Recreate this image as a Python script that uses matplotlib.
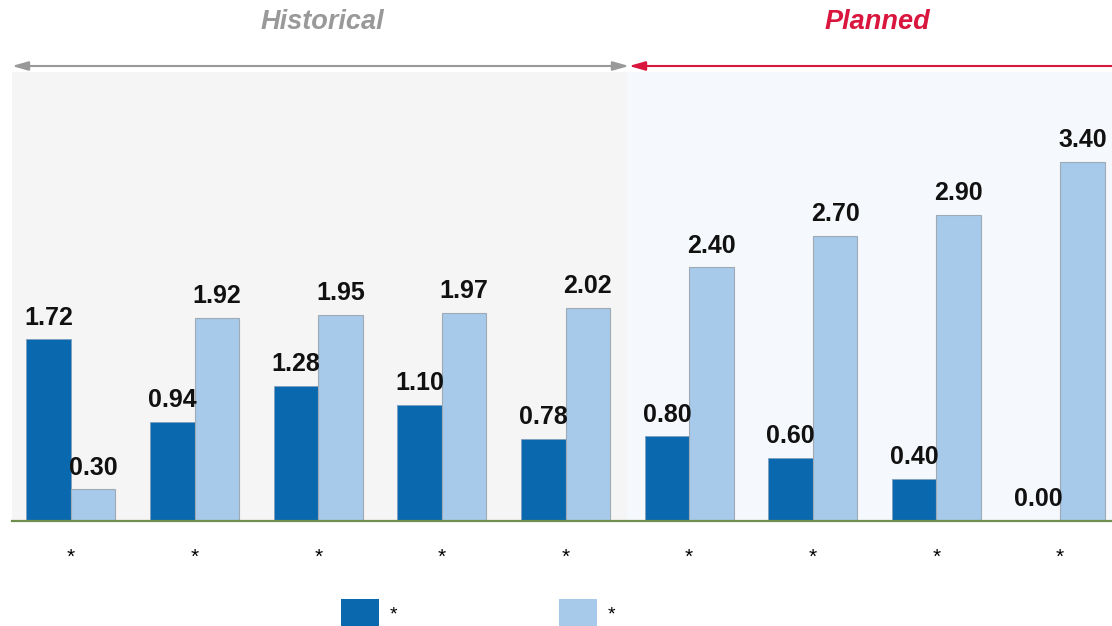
import matplotlib
matplotlib.use("Agg")
import matplotlib.pyplot as plt
import numpy as np

plt.rcParams['font.family'] = ['Liberation Sans', 'DejaVu Sans']

categories = ['*', '*', '*', '*', '*', '*', '*', '*', '*']
series_names = ['*', '*']
dark_vals = [1.72, 0.94, 1.28, 1.10, 0.78, 0.80, 0.60, 0.40, 0.00]
light_vals = [0.30, 1.92, 1.95, 1.97, 2.02, 2.40, 2.70, 2.90, 3.40]
n_hist = 5  # first 5 groups are historical

dark_c = '#0a69ae'
light_c = '#a7caeb'
grey_c = '#999999'
red_c = '#d9163d'

W, H = 1112, 626
fig = plt.figure(figsize=(W / 100, H / 100), dpi=100)
ax = fig.add_axes([12 / W, 1 - 521 / H, 1100 / W, (521 - 72) / H])

x = np.arange(len(categories))
bw = 0.36
ax.set_xlim(-0.477, 8.42)
ax.set_ylim(0, 4.25)

# background shading
ax.axvspan(-0.477, n_hist - 0.5, color='#f5f5f5', zorder=0, lw=0)
ax.axvspan(n_hist - 0.5, 8.42, color='#f5f8fc', zorder=0, lw=0)

b1 = ax.bar(x - bw / 2, dark_vals, bw, color=dark_c, edgecolor='#7f9fbf',
            linewidth=0.6, zorder=2, label=series_names[0])
b2 = ax.bar(x + bw / 2, light_vals, bw, color=light_c, edgecolor='#a0aab5',
            linewidth=0.8, zorder=2, label=series_names[1])

for bars, vals in ((b1, dark_vals), (b2, light_vals)):
    for r, v in zip(bars, vals):
        ax.annotate(f'{v:.2f}', (r.get_x() + r.get_width() / 2, v),
                    xytext=(0, 7), textcoords='offset points',
                    ha='center', va='bottom', fontsize=18, fontweight='bold',
                    color='#111111')

ax.axhline(0, color='#6f8f4f', lw=1.6, zorder=3, clip_on=False)

for s in ax.spines.values():
    s.set_visible(False)
ax.set_yticks([])
ax.set_xticks(x)
ax.set_xticklabels(categories, fontsize=15)
ax.tick_params(axis='x', length=0, pad=19)

# period arrows and titles
ya = 1 - 66 / H
fig.add_artist(matplotlib.patches.FancyArrowPatch(
    (12 / W, ya), (629 / W, ya), transform=fig.transFigure,
    arrowstyle='<|-|>,head_length=0.6,head_width=0.17', mutation_scale=16,
    color=grey_c, lw=1.5, shrinkA=0, shrinkB=0))
fig.add_artist(matplotlib.patches.FancyArrowPatch(
    (629 / W, ya), (1112 / W, ya), transform=fig.transFigure,
    arrowstyle='<|-,head_length=0.6,head_width=0.17', mutation_scale=16,
    color=red_c, lw=1.5, shrinkA=0, shrinkB=0))
fig.text(322 / W, 1 - 22 / H, 'Historical', color=grey_c, fontsize=19.5,
         fontweight='bold', fontstyle='italic', ha='center', va='center')
fig.text(877 / W, 1 - 22 / H, 'Planned', color=red_c, fontsize=19.5,
         fontweight='bold', fontstyle='italic', ha='center', va='center')

leg = fig.legend(handles=[b1, b2], labels=series_names, loc='upper left',
                 bbox_to_anchor=(341 / W, 1 - 599 / H), ncol=2, frameon=False,
                 fontsize=14, handlelength=1.95, handleheight=1.9,
                 handletextpad=0.55, columnspacing=8.3, borderpad=0,
                 borderaxespad=0)
for h in leg.legend_handles:
    h.set_edgecolor('none')

fig.savefig('out.png', dpi=100)
